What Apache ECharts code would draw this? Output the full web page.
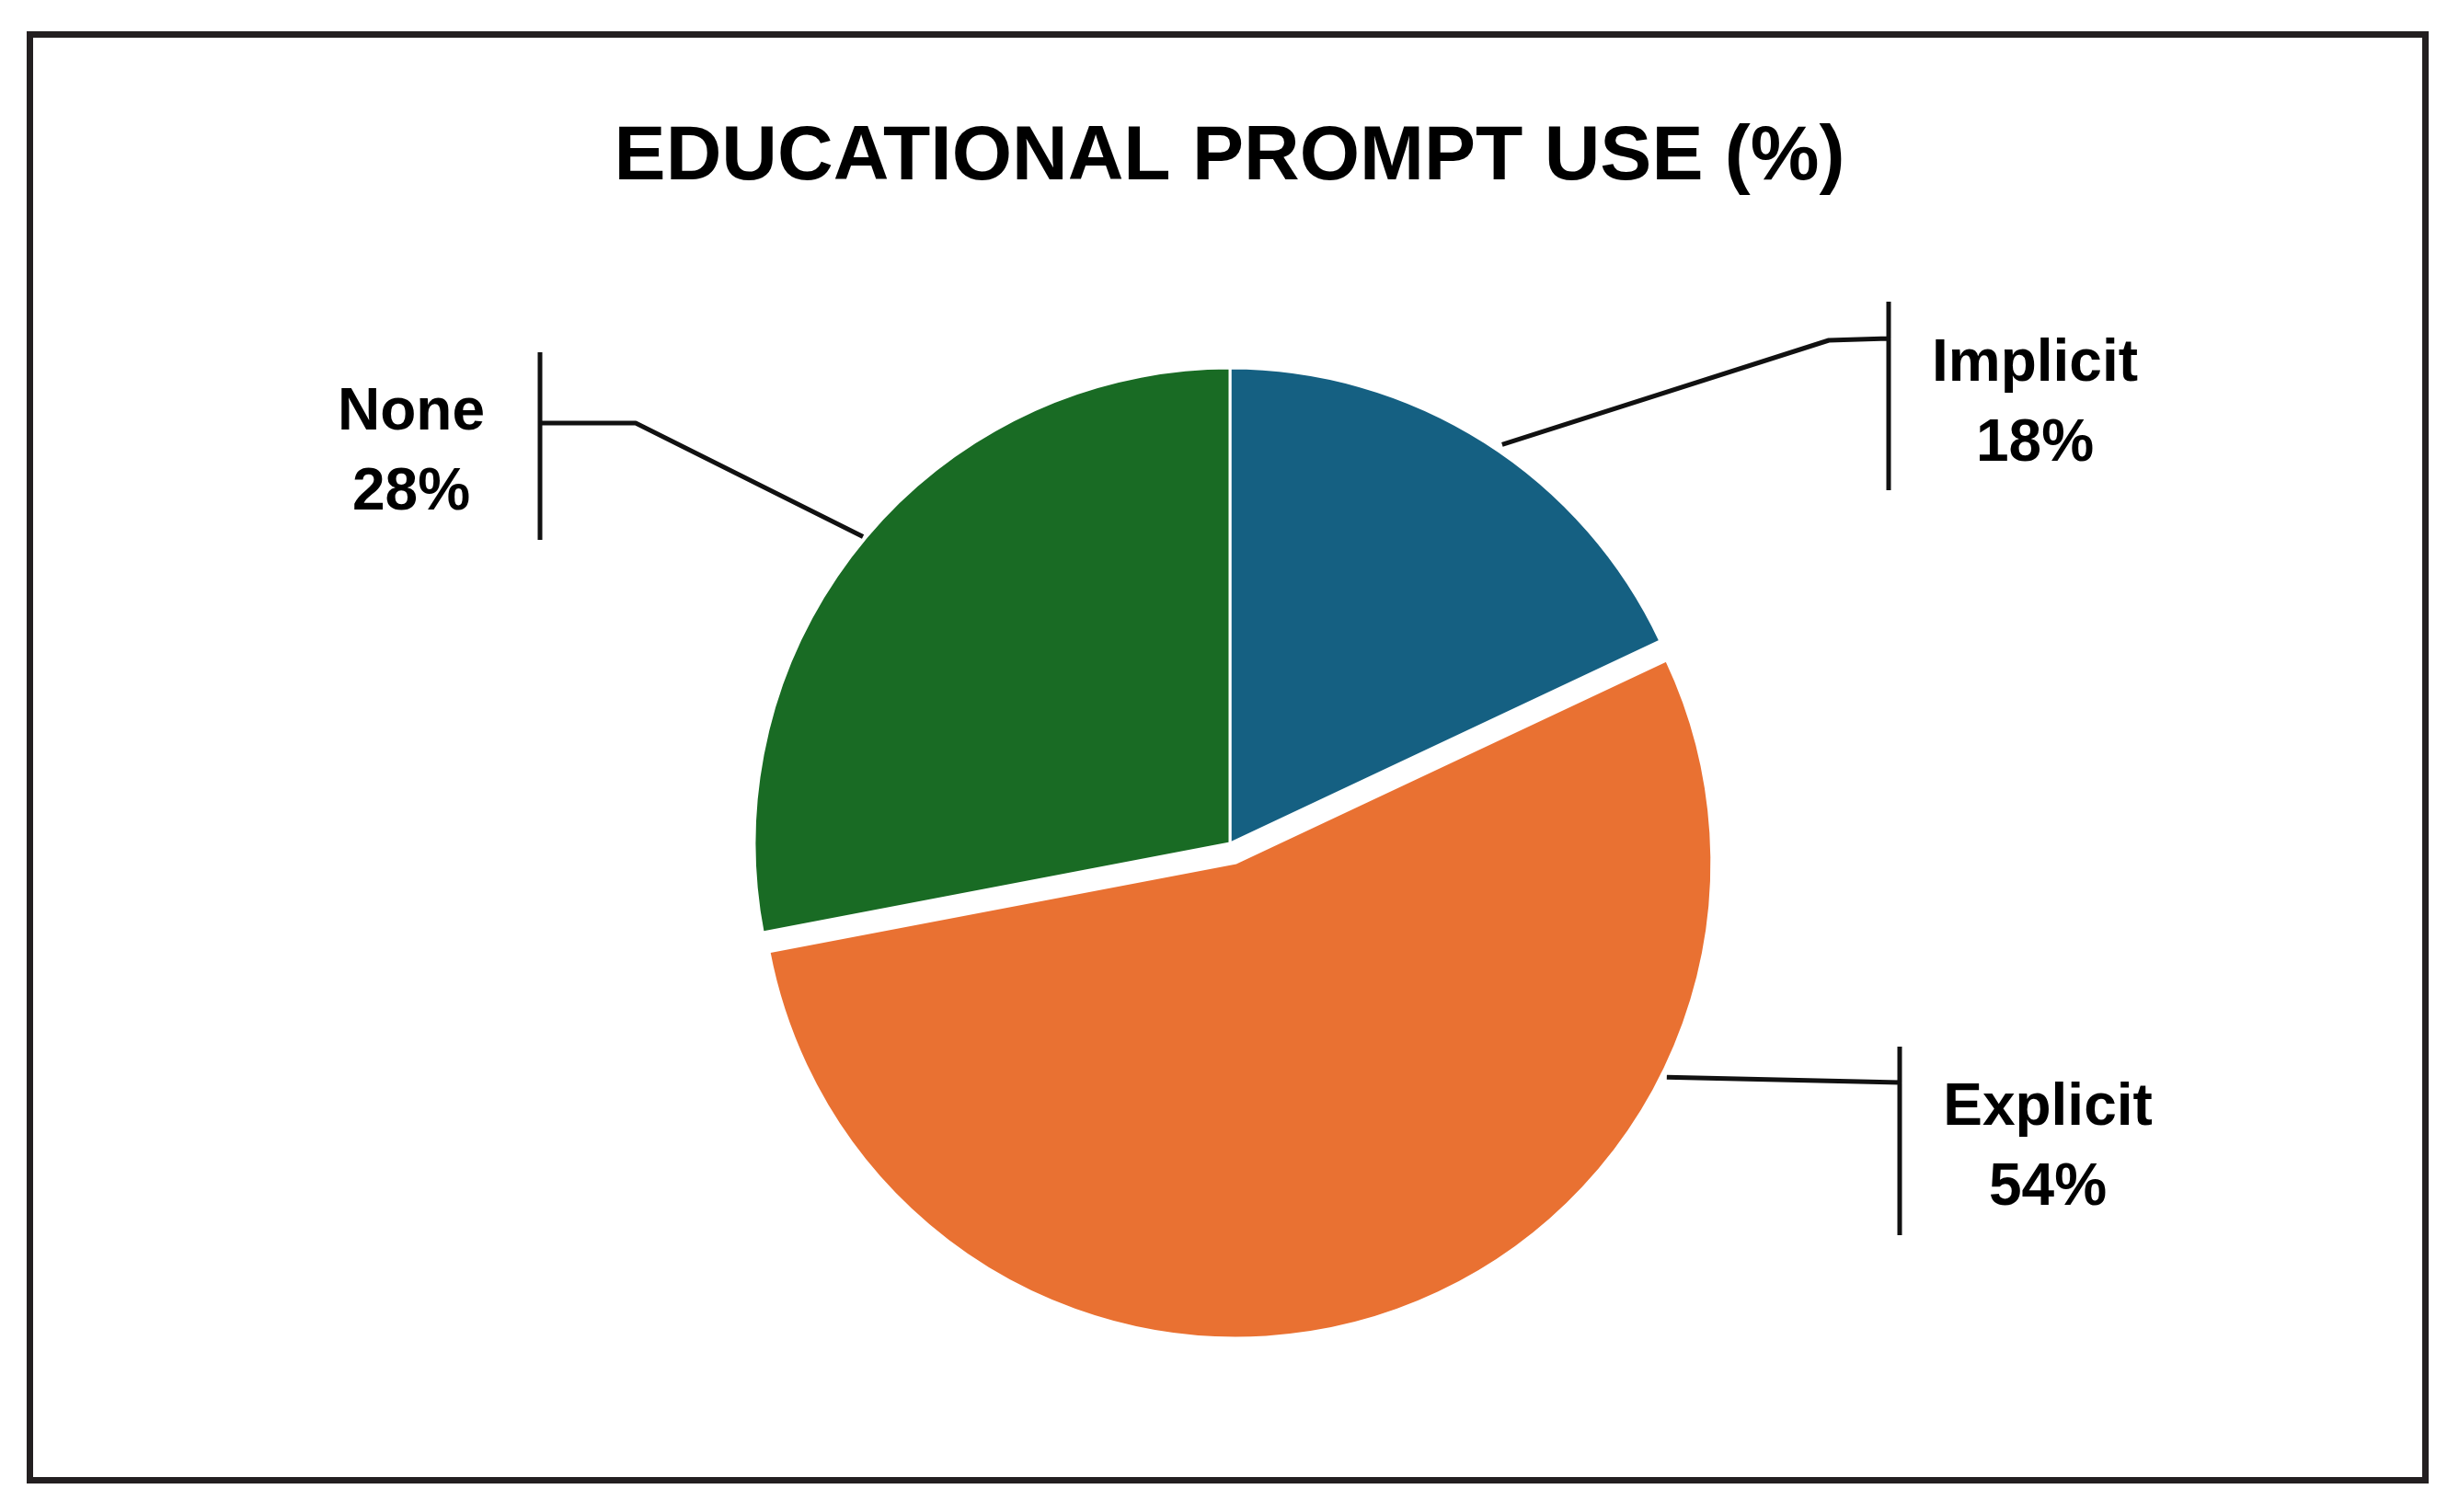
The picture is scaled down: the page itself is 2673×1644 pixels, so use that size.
<!DOCTYPE html>
<html>
<head>
<meta charset="utf-8">
<script src="https://cdn.jsdelivr.net/npm/echarts@6/dist/echarts.min.js"></script>
<style>
html, body { margin: 0; padding: 0; background: #ffffff; }
#chart { width: 2673px; height: 1644px; }
</style>
</head>
<body>
<div id="chart"></div>
<script>
// ---- data ----
const categories = ['Implicit', 'Explicit', 'None'];
const values = [18, 54, 28];
const explodedCategory = 'Explicit';
const titleText = 'EDUCATIONAL PROMPT USE (%)';

// ---- styles / layout ----
const sliceColors = ['#156082', '#E97132', '#196B24'];
const PIE_CENTER = [1337, 917];
const PIE_RADIUS = 517;
const EXPLODE_OFFSET = 22;

// callout layout, offsets (px) relative to the pie centre
const calloutLayout = {
  Implicit: { angle: 34.3, dist: 525, elbow: [651, -547], end: [716, -549], bar: [-589, -384], text: [875, -477] },
  Explicit: { angle: 116.5, dist: 523, elbow: null, end: [728, 260], bar: [221, 426], text: [889, 332] },
  None:     { angle: 309.9, dist: 520, elbow: [-646, -457], end: [-750, -457], bar: [-534, -330], text: [-890, -424] }
};

const total = values.reduce((a, b) => a + b, 0);
function midAngle(i) {
  let s = 0;
  for (let k = 0; k < i; k++) s += values[k];
  return (s + values[i] / 2) / total * 360;
}
function polar(cx, cy, deg, r) {
  const a = deg * Math.PI / 180;
  return [cx + r * Math.sin(a), cy - r * Math.cos(a)];
}
const explodedIdx = categories.indexOf(explodedCategory);
const explodeVec = polar(0, 0, midAngle(explodedIdx), EXPLODE_OFFSET);
const explodedCenter = [PIE_CENTER[0] + explodeVec[0], PIE_CENTER[1] + explodeVec[1]];

const chart = echarts.init(document.getElementById('chart'), null, { renderer: 'canvas' });

const hiddenItem = { color: 'rgba(0,0,0,0)', borderWidth: 0 };

const option = {
  animation: false,
  backgroundColor: '#ffffff',
  title: {
    text: titleText,
    left: 'center',
    top: 130,
    padding: 0,
    textStyle: {
      fontFamily: 'Liberation Sans',
      fontWeight: 'bold',
      fontSize: 84,
      color: '#000000'
    }
  },
  graphic: [{
    type: 'rect',
    silent: true,
    shape: { x: 32.5, y: 37.5, width: 2604, height: 1572 },
    style: { fill: 'none', stroke: '#231f20', lineWidth: 7 }
  }],
  series: [{
    // the slices that stay in place, plus all callouts
    type: 'pie',
    center: PIE_CENTER,
    radius: PIE_RADIUS,
    startAngle: 90,
    clockwise: true,
    avoidLabelOverlap: false,
    silent: true,
    emphasis: { disabled: true },
    itemStyle: { borderColor: '#ffffff', borderWidth: 3 },
    label: {
      show: true,
      position: 'outside',
      formatter: p => p.name + '\n' + p.value + '%',
      fontFamily: 'Liberation Sans',
      fontWeight: 'bold',
      fontSize: 64,
      lineHeight: 87,
      color: '#000000',
      align: 'center'
    },
    labelLine: {
      show: true,
      length: 40,
      length2: 40,
      lineStyle: { color: '#111111', width: 5, cap: 'butt', join: 'bevel' }
    },
    labelLayout: function (params) {
      const idx = params.dataIndex;
      const name = categories[idx];
      const spec = calloutLayout[name];
      const cx = PIE_CENTER[0], cy = PIE_CENTER[1];
      const origin = name === explodedCategory ? explodedCenter : PIE_CENTER;
      const p0 = polar(origin[0], origin[1], spec.angle, spec.dist);
      const pts = [p0];
      if (spec.elbow) pts.push([cx + spec.elbow[0], cy + spec.elbow[1]]);
      const end = [cx + spec.end[0], cy + spec.end[1]];
      pts.push(end);
      pts.push([end[0], cy + spec.bar[0]]);
      pts.push([end[0], cy + spec.bar[1]]);
      return {
        x: cx + spec.text[0],
        y: cy + spec.text[1],
        align: 'center',
        verticalAlign: 'middle',
        labelLinePoints: pts
      };
    },
    data: categories.map((c, i) => ({
      name: c,
      value: values[i],
      itemStyle: c === explodedCategory ? hiddenItem : { color: sliceColors[i] }
    }))
  }, {
    // the exploded slice, drawn from the same values around a shifted centre
    type: 'pie',
    center: explodedCenter,
    radius: PIE_RADIUS,
    startAngle: 90,
    clockwise: true,
    silent: true,
    emphasis: { disabled: true },
    label: { show: false },
    labelLine: { show: false },
    itemStyle: { borderColor: '#ffffff', borderWidth: 3 },
    data: categories.map((c, i) => ({
      name: c,
      value: values[i],
      itemStyle: c === explodedCategory ? { color: sliceColors[i] } : hiddenItem
    }))
  }]
};

chart.setOption(option);
</script>
</body>
</html>
